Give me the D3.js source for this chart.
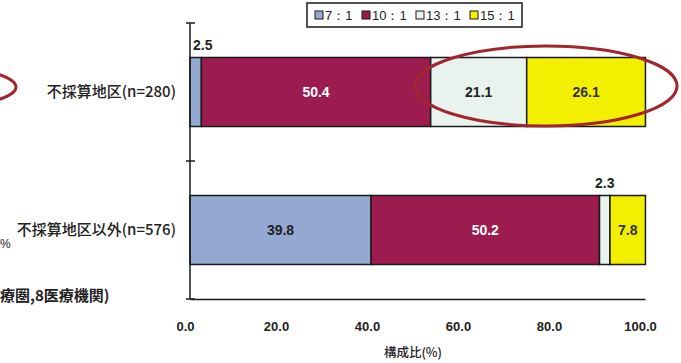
<!DOCTYPE html>
<html><head><meta charset="utf-8">
<script src="https://cdn.jsdelivr.net/npm/d3@7"></script>
<style>body{margin:0;background:#fff}svg{display:block}</style>
</head><body>
<svg id="c" width="681" height="363"></svg>
<script>
const categories = ["不採算地区(n=280)", "不採算地区以外(n=576)"];
const seriesNames = ["7：1", "10：1", "13：1", "15：1"];
const values = {
  "7：1":  [2.5, 39.8],
  "10：1": [50.4, 50.2],
  "13：1": [21.1, 2.3],
  "15：1": [26.1, 7.8]
};
const xTicks = [0, 20, 40, 60, 80, 100];
const colors = ["#93a9d2", "#9c1c50", "#e8f3ee", "#f2f000"];
const labelColors = ["#222", "#fff", "#222", "#333"];

const svg = d3.select("#c");
const fontJP = "'Noto Sans CJK JP', sans-serif";
const fontNum = "'Liberation Sans', Arial, sans-serif";

const x = d3.scaleLinear().domain([0, 100]).range([190, 645]);
const y = d3.scaleBand().domain(categories).range([23, 299]).paddingInner(0.5).paddingOuter(0.25);

const rows = categories.map((c, i) => {
  const r = {cat: c};
  seriesNames.forEach(s => r[s] = values[s][i]);
  return r;
});
const stack = d3.stack().keys(seriesNames)(rows);

stack.forEach((layer, si) => {
  layer.forEach(d => {
    svg.append("rect")
      .attr("x", x(d[0])).attr("y", y(d.data.cat))
      .attr("width", x(d[1]) - x(d[0])).attr("height", y.bandwidth())
      .attr("fill", colors[si]).attr("stroke", "#1a1a1a").attr("stroke-width", 1.5);
  });
});

stack.forEach((layer, si) => {
  layer.forEach(d => {
    const v = d[1] - d[0];
    const txt = v.toFixed(1);
    const w = x(d[1]) - x(d[0]);
    if (w > 20) {
      svg.append("text")
        .attr("x", (x(d[0]) + x(d[1])) / 2).attr("y", y(d.data.cat) + y.bandwidth() / 2 + 5)
        .attr("text-anchor", "middle").attr("font-family", fontNum).attr("font-weight", "bold")
        .attr("font-size", 14).attr("fill", labelColors[si]).text(txt);
    } else {
      svg.append("text")
        .attr("x", si === 0 ? x(d[0]) + 3 : (x(d[0]) + x(d[1])) / 2)
        .attr("y", y(d.data.cat) - 8)
        .attr("text-anchor", si === 0 ? "start" : "middle").attr("font-family", fontNum).attr("font-weight", "bold")
        .attr("font-size", 14).attr("fill", "#222").text(txt);
    }
  });
});

const ax = svg.append("g").attr("transform", "translate(0,299)")
  .call(d3.axisBottom(x).tickValues(xTicks).tickSize(0).tickFormat(d3.format(".1f")));
ax.select(".domain").attr("stroke", "#1a1a1a").attr("stroke-width", 1.5);
ax.selectAll("text").attr("font-family", fontNum).attr("font-size", 13).attr("font-weight", "bold")
  .attr("fill", "#222").attr("y", 32).attr("dy", 0).attr("dx", -5);

svg.append("line").attr("x1", 190).attr("x2", 190).attr("y1", 23).attr("y2", 299)
  .attr("stroke", "#1a1a1a").attr("stroke-width", 1.5);
[23, 161, 299].forEach(t => svg.append("line").attr("x1", 186).attr("x2", 195)
  .attr("y1", t).attr("y2", t).attr("stroke", "#1a1a1a").attr("stroke-width", 1.5));

categories.forEach(c => {
  svg.append("text").attr("x", 176).attr("y", y(c) + y.bandwidth() / 2 + 5)
    .attr("text-anchor", "end").attr("font-family", fontJP).attr("font-size", 15)
    .attr("font-weight", "500").attr("fill", "#222").text(c);
});

svg.append("text").attr("x", 413).attr("y", 357).attr("text-anchor", "middle")
  .attr("font-family", fontJP).attr("font-size", 12.5).attr("font-weight", "500").attr("fill", "#222").text("構成比(%)");

const lg = svg.append("g");
lg.append("rect").attr("x", 307).attr("y", 3).attr("width", 215).attr("height", 24)
  .attr("fill", "#fff").attr("stroke", "#1a1a1a").attr("stroke-width", 1.5);
const legX = [315, 362, 416, 470];
seriesNames.forEach((s, i) => {
  lg.append("rect").attr("x", legX[i]).attr("y", 11).attr("width", 8).attr("height", 8)
    .attr("fill", colors[i]).attr("stroke", "#1a1a1a").attr("stroke-width", 1);
  lg.append("text").attr("x", legX[i] + 10).attr("y", 20).attr("font-family", fontNum)
    .attr("font-size", 13).attr("fill", "#222").text(s);
});

svg.append("ellipse").attr("cx", 546).attr("cy", 86).attr("rx", 131).attr("ry", 40)
  .attr("fill", "none").attr("stroke", "#a3262e").attr("stroke-width", 3);
svg.append("ellipse").attr("cx", -100).attr("cy", 87).attr("rx", 116).attr("ry", 24)
  .attr("fill", "none").attr("stroke", "#a3262e").attr("stroke-width", 3);
svg.append("text").attr("x", 0).attr("y", 248).attr("font-family", fontNum).attr("font-size", 12)
  .attr("fill", "#222").text("%");
svg.append("text").attr("x", 0).attr("y", 301).attr("font-family", fontJP).attr("font-size", 15)
  .attr("font-weight", "bold").attr("fill", "#222").text("療圏,8医療機関)");
</script>
</body></html>
